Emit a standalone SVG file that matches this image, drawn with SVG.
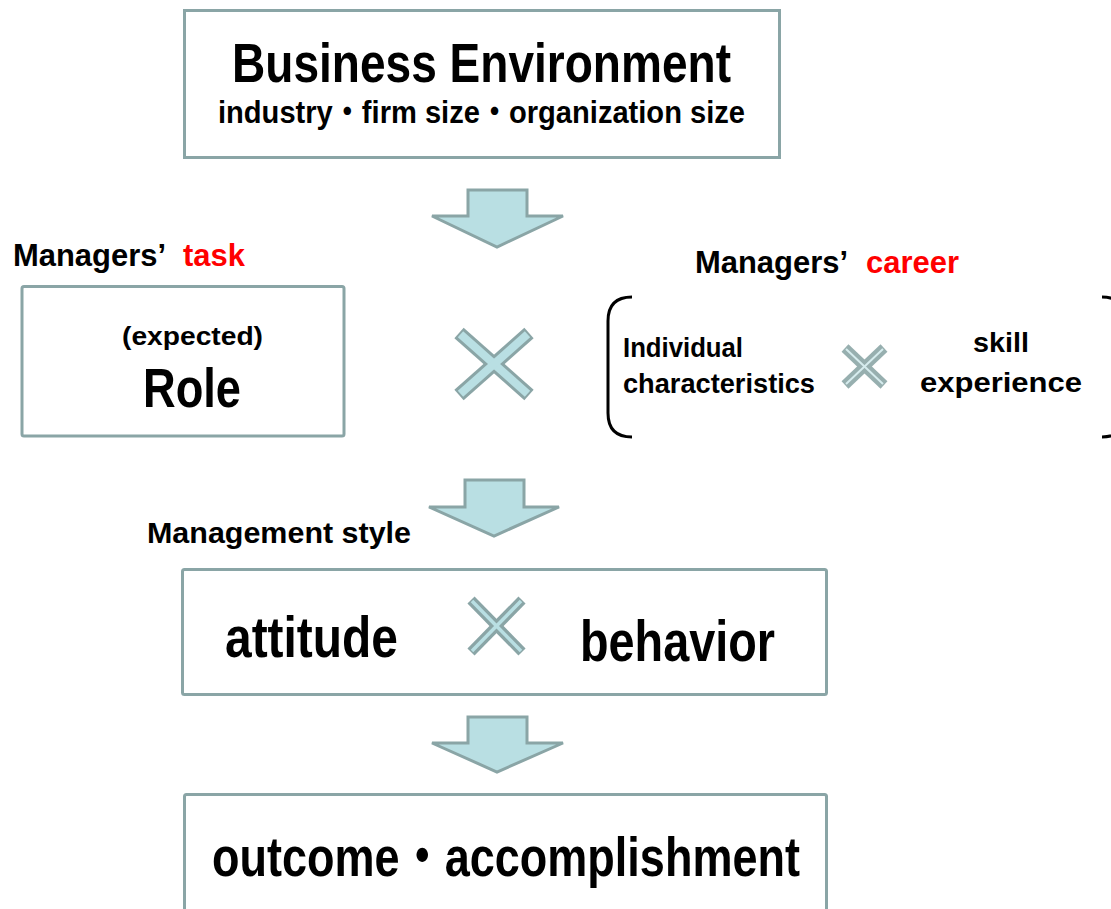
<svg xmlns="http://www.w3.org/2000/svg" width="1111" height="909" viewBox="0 0 1111 909">
  <style>
    .box { fill: #ffffff; stroke: #8aa5a6; stroke-width: 3; }
    .arrow { fill: #b9dfe3; stroke: #8aa5a6; stroke-width: 3; stroke-linejoin: miter; }
    .t { font-family: "Liberation Sans", "Noto Sans CJK JP", sans-serif; font-weight: bold; fill: #000000; }
    .red { fill: #ff0000; }
    .xo { stroke: #8aa5a6; stroke-linecap: butt; }
    .xi { stroke: #b9dfe3; stroke-linecap: butt; }
    .brk { fill: none; stroke: #000000; stroke-width: 3; }
  </style>

  <!-- flow arrows between the stages -->
  <g id="connectors">
    <polygon class="arrow" points="468,190 527,190 527,216 563,216 497,247 432,216 468,216"/>
    <polygon class="arrow" points="465,480 524,480 524,507 559,507 494,536 429,507 465,507"/>
    <polygon class="arrow" points="468,717 527,717 527,743 563,743 497,772 432,743 468,743"/>
  </g>

  <g id="business-environment">
    <rect class="box" x="184.5" y="10.5" width="595" height="147"/>
    <text class="t" x="232" y="82" font-size="55" textLength="499" lengthAdjust="spacingAndGlyphs">Business Environment</text>
    <text class="t" x="218" y="123" font-size="32" textLength="527" lengthAdjust="spacingAndGlyphs">industry・firm size・organization size</text>
  </g>

  <g id="managers-task">
    <text class="t" x="13" y="266" font-size="32" textLength="153" lengthAdjust="spacingAndGlyphs">Managers’</text>
    <text class="t red" x="183" y="266" font-size="32" textLength="62" lengthAdjust="spacingAndGlyphs">task</text>
  </g>

  <g id="role">
    <rect class="box" x="22" y="286.5" width="322" height="149.5" rx="2"/>
    <text class="t" x="122" y="345" font-size="26" font-weight="normal" textLength="141" lengthAdjust="spacingAndGlyphs">(expected)</text>
    <text class="t" x="143" y="407" font-size="55" textLength="98" lengthAdjust="spacingAndGlyphs">Role</text>
  </g>

  <!-- multiplication sign between role and career -->
  <g id="cross-role-career">
    <line class="xo" x1="459" y1="333" x2="529" y2="395" stroke-width="14"/>
    <line class="xo" x1="529" y1="333" x2="459" y2="395" stroke-width="14"/>
    <line class="xi" x1="460.5" y1="334.3" x2="527.5" y2="393.7" stroke-width="8"/>
    <line class="xi" x1="527.5" y1="334.3" x2="460.5" y2="393.7" stroke-width="8"/>
  </g>

  <g id="managers-career">
    <text class="t" x="695" y="273" font-size="32" textLength="153" lengthAdjust="spacingAndGlyphs">Managers’</text>
    <text class="t red" x="866" y="273" font-size="32" textLength="93" lengthAdjust="spacingAndGlyphs">career</text>
    <path class="brk" d="M632,297 Q608,297 608,321 L608,413 Q608,437 632,437"/>
    <path class="brk" d="M1102,297 Q1126,297 1126,321 L1126,413 Q1126,437 1102,437"/>
    <text class="t" x="623" y="357" font-size="28" textLength="120" lengthAdjust="spacingAndGlyphs">Individual</text>
    <text class="t" x="623" y="393" font-size="28" textLength="192" lengthAdjust="spacingAndGlyphs">characteristics</text>
    <g id="cross-career">
      <line x1="845" y1="348" x2="884" y2="385" stroke="#97afaf" stroke-width="10"/>
      <line x1="884" y1="348" x2="845" y2="385" stroke="#97afaf" stroke-width="10"/>
      <line x1="846" y1="349" x2="883" y2="384" stroke="#d6ecee" stroke-width="2"/>
      <line x1="883" y1="349" x2="846" y2="384" stroke="#d6ecee" stroke-width="2"/>
    </g>
    <text class="t" x="973" y="352" font-size="28" textLength="56" lengthAdjust="spacingAndGlyphs">skill</text>
    <text class="t" x="920" y="392" font-size="28" textLength="162" lengthAdjust="spacingAndGlyphs">experience</text>
  </g>

  <g id="management-style">
    <text class="t" x="147" y="543" font-size="29" textLength="264" lengthAdjust="spacingAndGlyphs">Management style</text>
    <rect class="box" x="182.5" y="569.5" width="644" height="125" rx="2"/>
    <text class="t" x="225" y="657" font-size="58" textLength="173" lengthAdjust="spacingAndGlyphs">attitude</text>
    <g id="cross-style">
      <line class="xo" x1="471" y1="600" x2="522" y2="652" stroke-width="10"/>
      <line class="xo" x1="522" y1="600" x2="471" y2="652" stroke-width="10"/>
      <line class="xi" x1="472" y1="601" x2="521" y2="651" stroke-width="3.5"/>
      <line class="xi" x1="521" y1="601" x2="472" y2="651" stroke-width="3.5"/>
    </g>
    <text class="t" x="580" y="661" font-size="58" textLength="195" lengthAdjust="spacingAndGlyphs">behavior</text>
  </g>

  <g id="outcome">
    <rect class="box" x="184.5" y="794.5" width="642" height="130" rx="2"/>
    <text class="t" x="212" y="876" font-size="56" textLength="588" lengthAdjust="spacingAndGlyphs">outcome・accomplishment</text>
  </g>
</svg>
